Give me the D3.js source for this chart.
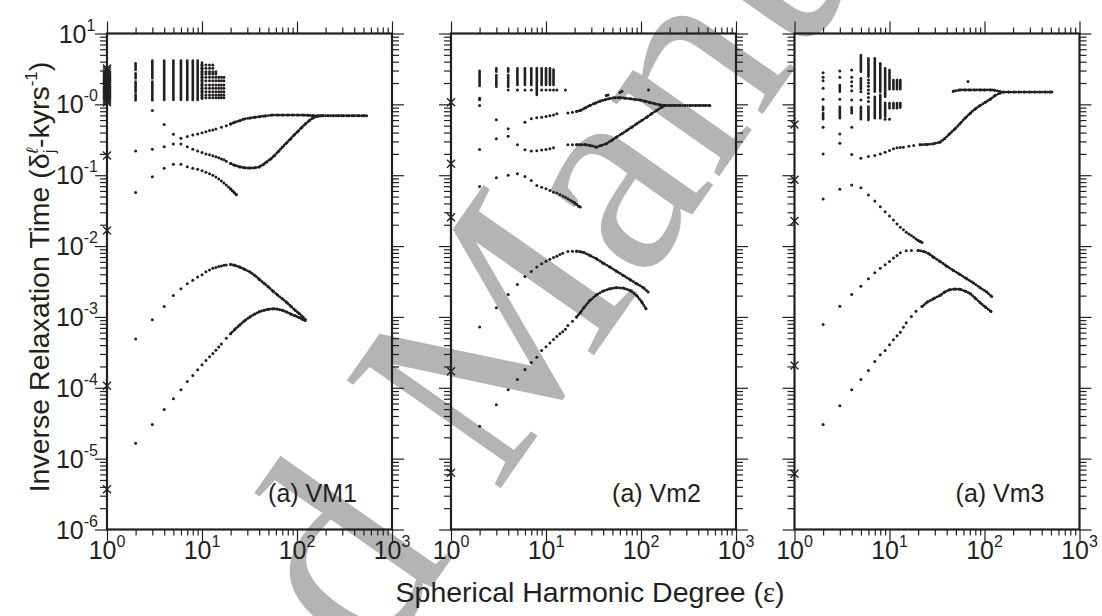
<!DOCTYPE html>
<html>
<head>
<meta charset="utf-8">
<script src="https://cdn.jsdelivr.net/npm/d3@7"></script>
<style>
  html, body { margin: 0; padding: 0; background: #fff; }
  svg { display: block; }
</style>
</head>
<body>
<svg id="chart" width="1102" height="616"></svg>
<script>
// ---------- axis tick labels ----------
const xTickValues = [1, 10, 100, 1000];
const xTickExponents = ["0", "1", "2", "3"];
const yTickValues = [10, 1, 1e-1, 1e-2, 1e-3, 1e-4, 1e-5, 1e-6];
const yTickExponents = ["1", "-0", "-1", "-2", "-3", "-4", "-5", "-6"];
const panelLabels = ["(a) VM1", "(a) Vm2", "(a) Vm3"];

// ---------- VM1 ----------
const vm1Crosses = [3.2, 3.0, 2.8, 2.6, 2.45, 2.3, 2.15, 2.0, 1.9, 1.8, 1.7, 1.6, 1.52, 1.44, 1.36, 1.28, 1.2, 1.13, 1.07, 0.19, 0.0166, 1.07e-4, 3.7e-6];
const vm1Bars = [[2,3.06,3.8],[2,2.33,2.74],[2,1.75,2.09],[2,1.49,1.66],[2,1.14,1.38],[3,2.33,4.16],[3,1.75,2.09],[3,1.14,1.66],[4,1.15,4.15],[5,1.15,4.15],[6,1.15,4.15],[7,1.15,4.15],[8,1.15,4.15],[9,1.15,4.15],[10,1.2,3.9]];
const vm1Dots = [];
// level value, last degree reached (all levels start at degree 10)
const vm1Steps = [[3.59,13],[3.23,13],[2.89,14],[2.68,14],[2.41,17],[2.16,17],[1.88,17],[1.69,17],[1.51,17],[1.36,17],[1.24,17]];
const vm1ModeA = [[3,0.82],[4,0.52],[5,0.38],[6,0.332],[7,0.351],[8,0.37],[9,0.382],[10,0.399],[11,0.412],[12,0.426],[13,0.436],[14,0.449],[16,0.474],[18,0.5],[20,0.528],[22,0.557],[25,0.589],[28,0.622],[32,0.642],[36,0.656],[40,0.67],[46,0.685],[55,0.705],[63,0.705],[71,0.705],[80,0.705],[90,0.705],[102,0.705],[115,0.705],[130,0.7],[147,0.69],[166,0.69],[188,0.69],[212,0.69],[240,0.69],[271,0.69],[306,0.69],[346,0.69],[391,0.69],[442,0.69],[500,0.69],[540,0.69]];
const vm1ModeB = [[2,0.22],[3,0.232],[4,0.253],[5,0.276],[6,0.276],[7,0.253],[8,0.232],[9,0.22],[10,0.21],[11,0.2],[12,0.194],[13,0.188],[14,0.182],[15,0.176],[16,0.17],[17,0.165],[18,0.158],[20,0.146],[22,0.138],[25,0.131],[28,0.127],[32,0.126],[36,0.127],[40,0.131],[44,0.141],[48,0.154],[53,0.17],[58,0.19],[64,0.217],[70,0.248],[77,0.283],[85,0.323],[93,0.368],[102,0.414],[112,0.471],[123,0.531],[135,0.592],[148,0.646],[163,0.675],[180,0.69]];
const vm1ModeC = [[2,0.0568],[3,0.0955],[4,0.1255],[5,0.143],[6,0.143],[7,0.132],[8,0.1255],[9,0.121],[10,0.116],[11,0.11],[12,0.105],[13,0.0995],[14,0.0944],[15,0.0884],[16,0.0828],[17,0.0776],[18,0.0727],[19,0.0682],[20,0.0639],[21,0.0598],[22,0.0561],[23,0.0532]];
const vm1ModeD = [[2,4.9e-4],[3,9.1e-4],[4,1.4e-3],[5,2.0e-3],[6,2.5e-3],[7,2.95e-3],[8,3.3e-3],[9,3.65e-3],[10,3.95e-3],[11,4.35e-3],[12,4.6e-3],[13,4.85e-3],[14,5.0e-3],[15,5.15e-3],[16,5.25e-3],[17,5.35e-3],[18,5.42e-3],[20,5.5e-3],[22,5.35e-3],[25,5.05e-3],[28,4.7e-3],[32,4.3e-3],[36,3.85e-3],[40,3.4e-3],[45,2.98e-3],[50,2.65e-3],[56,2.31e-3],[62,2.05e-3],[70,1.8e-3],[78,1.6e-3],[86,1.42e-3],[95,1.25e-3],[105,1.12e-3],[115,1.0e-3],[122,9.3e-4]];
const vm1ModeE = [[2,1.65e-5],[3,3.03e-5],[4,4.94e-5],[5,7.0e-5],[6,9.4e-5],[7,1.23e-4],[8,1.49e-4],[9,1.8e-4],[10,2.11e-4],[11,2.43e-4],[12,2.75e-4],[13,3.05e-4],[14,3.4e-4],[15,3.75e-4],[16,4.15e-4],[18,5.0e-4],[20,5.8e-4],[22,6.6e-4],[25,7.7e-4],[28,8.8e-4],[32,1.0e-3],[36,1.1e-3],[40,1.18e-3],[45,1.24e-3],[50,1.28e-3],[56,1.3e-3],[62,1.29e-3],[70,1.24e-3],[78,1.17e-3],[86,1.1e-3],[95,1.04e-3],[105,9.8e-4],[115,9.2e-4],[122,8.9e-4]];

// ---------- Vm2 ----------
const vm2Crosses = [1.07, 0.145, 0.0256, 1.71e-4, 6.3e-6];
const vm2Bars = [[2,1.82,2.98],[3,2.89,3.23],[3,2.33,2.6],[3,1.77,2.21],[4,2.89,3.23],[4,2.33,2.6],[4,1.77,2.21],[5,1.88,3.23],[6,1.88,3.23],[7,1.88,3.23],[8,1.36,3.23],[9,1.88,3.23],[10,1.88,3.23],[11,1.88,3.23],[12,1.88,3.1]];
const vm2Dots = [[2,1.22],[2,1.16],[2,0.96],[4,1.6],[5,1.6],[6,1.6],[7,1.6],[9,1.6],[10,1.6],[11,1.6],[12,1.6],[13,1.6],[16,1.6],[43,1.33],[45,1.36],[60,1.47],[63,1.53],[120,1.6]];
const vm2ModeA = [[3,0.605],[4,0.452],[6,0.561],[7,0.625],[8,0.646],[9,0.66],[10,0.674],[11,0.69],[12,0.71],[13,0.735],[17,0.758],[19,0.776],[21,0.793],[23,0.819],[26,0.893],[29,0.964],[33,1.04],[37,1.11],[42,1.16],[47,1.21],[53,1.24],[60,1.24],[68,1.22],[77,1.2],[87,1.17],[98,1.15],[110,1.11],[124,1.06],[140,1.02],[158,0.98],[175,0.964],[200,0.964],[225,0.964],[255,0.964],[290,0.964],[330,0.964],[375,0.964],[420,0.964],[475,0.964],[530,0.964]];
const vm2ModeB = [[2,0.231],[3,0.327],[4,0.356],[5,0.269],[6,0.228],[7,0.219],[8,0.222],[9,0.226],[10,0.231],[11,0.236],[12,0.244],[17,0.269],[19,0.269],[21,0.269],[23,0.269],[26,0.269],[29,0.263],[34,0.249],[38,0.263],[43,0.277],[49,0.309],[55,0.344],[63,0.384],[71,0.428],[80,0.477],[90,0.531],[102,0.592],[115,0.66],[129,0.735],[146,0.819],[165,0.912],[178,0.964]];
const vm2ModeC = [[2,0.0693],[3,0.092],[4,0.1],[5,0.105],[6,0.096],[7,0.0843],[8,0.0716],[9,0.0679],[10,0.0643],[11,0.061],[12,0.0577],[13,0.056],[14,0.0535],[15,0.051],[16,0.049],[17,0.0465],[18,0.0445],[19,0.0426],[20,0.0405],[21,0.0386],[22,0.0365],[23,0.0355]];
const vm2ModeD = [[2,7.2e-4],[3,1.35e-3],[4,2.07e-3],[5,2.87e-3],[6,3.72e-3],[7,4.38e-3],[8,5.05e-3],[9,5.62e-3],[10,6.1e-3],[11,6.5e-3],[12,6.9e-3],[13,7.2e-3],[14,7.6e-3],[15,7.9e-3],[17,8.35e-3],[19,8.45e-3],[21,8.47e-3],[23,8.3e-3],[25,8.1e-3],[29,7.36e-3],[34,6.6e-3],[40,5.74e-3],[47,5.05e-3],[55,4.43e-3],[65,3.85e-3],[77,3.34e-3],[90,2.94e-3],[106,2.58e-3],[119,2.24e-3]];
const vm2ModeE = [[2,2.87e-5],[3,5.75e-5],[4,9.35e-5],[5,1.31e-4],[6,1.81e-4],[7,2.27e-4],[8,2.7e-4],[9,3.36e-4],[10,3.8e-4],[11,4.3e-4],[12,4.8e-4],[13,5.3e-4],[14,5.78e-4],[15,6.2e-4],[16,6.7e-4],[17,7.57e-4],[19,8.7e-4],[21,1.0e-3],[23,1.15e-3],[25,1.35e-3],[29,1.7e-3],[34,2.05e-3],[40,2.32e-3],[47,2.49e-3],[55,2.58e-3],[65,2.55e-3],[77,2.36e-3],[90,2.0e-3],[102,1.62e-3],[113,1.3e-3]];

// ---------- Vm3 ----------
const vm3Crosses = [0.52, 0.0861, 0.0225, 2.07e-4, 6.1e-6];
const vm3Bars = [[2,0.83,0.927],[2,0.615,0.748],[3,1.51,1.88],[3,0.636,0.927],[4,0.748,0.908],[5,2.89,4.98],[5,1.63,2.33],[5,0.615,0.927],[6,2.46,4.47],[6,0.6,0.93],[7,1.51,4.47],[7,0.636,1.28],[8,1.51,3.8],[8,0.636,1.36],[9,1.28,3.23],[9,0.67,1.055],[10,1.63,3.06],[10,0.88,1.04],[11,1.63,2.21],[11,0.88,1.04],[12,1.63,2.21],[12,0.88,1.04],[13,1.63,2.21],[13,0.9,1.04]];
const vm3Dots = [[2,2.8],[2,2.41],[2,2.16],[2,1.69],[2,1.18],[2,0.474],[3,2.96],[3,2.41],[3,1.18],[3,0.382],[4,3.06],[4,2.41],[4,2.09],[4,1.82],[4,1.56],[4,1.15],[4,0.474],[5,1.51],[5,1.15],[6,2.21],[6,2.0],[6,1.8],[6,1.6],[6,1.42],[6,1.25],[6,1.1],[9,0.615],[10,0.615],[67,2.1]];
const vm3Steps = [];
const vm3ModeA = [[2,0.2],[3,0.283],[4,0.196],[5,0.174],[6,0.184],[7,0.19],[8,0.2],[9,0.211],[10,0.223],[11,0.236],[12,0.244],[13,0.247],[14,0.249],[16,0.257],[18,0.263],[21,0.269],[25,0.272],[29,0.277],[34,0.293],[38,0.327],[43,0.384],[49,0.452],[55,0.531],[63,0.646],[71,0.751],[80,0.865],[90,0.964],[102,1.07],[115,1.18],[129,1.33],[146,1.45],[158,1.49],[180,1.49],[205,1.49],[232,1.49],[263,1.49],[298,1.49],[338,1.49],[383,1.49],[435,1.49],[490,1.49],[512,1.49]];
const vm3ModeU = [[47,1.53],[55,1.6],[62,1.6],[70,1.6],[79,1.6],[90,1.6],[100,1.6],[115,1.6],[128,1.58],[146,1.52]];
const vm3ModeC = [[2,0.0462],[3,0.0632],[4,0.0728],[5,0.0668],[6,0.0526],[7,0.0433],[8,0.036],[9,0.0306],[10,0.0266],[11,0.0233],[12,0.0205],[13,0.0185],[14,0.017],[15,0.0157],[16,0.0148],[17,0.0141],[18,0.0133],[19,0.0126],[20,0.012],[21,0.0116],[22,0.0112]];
const vm3ModeD = [[2,7.8e-4],[3,1.41e-3],[4,2.07e-3],[5,2.72e-3],[6,3.45e-3],[7,4.2e-3],[8,4.88e-3],[9,5.44e-3],[10,6.07e-3],[11,6.76e-3],[12,7.36e-3],[13,8.03e-3],[15,8.57e-3],[17,8.67e-3],[20,8.67e-3],[23,8.4e-3],[26,7.78e-3],[29,6.98e-3],[34,6.07e-3],[40,5.21e-3],[47,4.53e-3],[55,3.98e-3],[65,3.45e-3],[77,3.0e-3],[90,2.58e-3],[106,2.24e-3],[119,1.94e-3]];
const vm3ModeE = [[2,3.03e-5],[3,5.6e-5],[4,9.4e-5],[5,1.31e-4],[6,1.75e-4],[7,2.35e-4],[8,2.92e-4],[9,3.36e-4],[10,4.04e-4],[11,4.75e-4],[12,5.41e-4],[13,6.1e-4],[14,7.17e-4],[15,8.26e-4],[17,1.01e-3],[19,1.2e-3],[22,1.4e-3],[25,1.62e-3],[29,1.8e-3],[34,2.01e-3],[38,2.24e-3],[43,2.42e-3],[49,2.47e-3],[55,2.45e-3],[63,2.31e-3],[71,2.12e-3],[80,1.84e-3],[90,1.58e-3],[102,1.38e-3],[117,1.19e-3]];

const panels = [
  { label: panelLabels[0], crosses: vm1Crosses, bars: vm1Bars, dots: vm1Dots, steps: vm1Steps,
    modes: [vm1ModeA, vm1ModeB, vm1ModeC, vm1ModeD, vm1ModeE] },
  { label: panelLabels[1], crosses: vm2Crosses, bars: vm2Bars, dots: vm2Dots, steps: [],
    modes: [vm2ModeA, vm2ModeB, vm2ModeC, vm2ModeD, vm2ModeE] },
  { label: panelLabels[2], crosses: vm3Crosses, bars: vm3Bars, dots: vm3Dots, steps: vm3Steps,
    modes: [vm3ModeA, vm3ModeU, vm3ModeC, vm3ModeD, vm3ModeE] }
];

// ---------- layout ----------
const ink = "#231f20";
const sans = "'Liberation Sans', Arial, Helvetica, sans-serif";
const serif = "'Liberation Serif', 'Times New Roman', serif";
const panelLefts = [107, 451, 794.5];
const panelWidth = 285;
const plotTop = 33.5, plotBottom = 529.5;

const svg = d3.select("#chart");

// journal watermark, behind everything; the two words meet at the "M"
const mark = svg.append("g").attr("transform", "translate(496,495) rotate(-55)")
  .style("font-family", serif).style("font-size", "287px").style("fill", "#b4b4b4");
mark.append("text").attr("x", -0.25 * 287).attr("y", 0).attr("text-anchor", "end").text("Accepted");
mark.append("text").attr("x", 0).attr("y", 0).text("Manuscript");

const y = d3.scaleLog().domain([1e-6, 10]).range([plotBottom, plotTop]);
const isDecade = v => Math.abs(Math.log10(v) - Math.round(Math.log10(v))) < 1e-9;

panels.forEach((p, i) => {
  const left = panelLefts[i], right = left + panelWidth;
  const x = d3.scaleLog().domain([1, 1000]).range([left, right]);
  const g = svg.append("g");

  const xMinor = x.ticks().filter(v => !isDecade(v));
  const yMinor = y.ticks().filter(v => !isDecade(v));

  const tickGroup = (axis, tx, ty) => {
    const a = g.append("g").attr("transform", `translate(${tx},${ty})`).call(axis);
    a.select(".domain").remove();
    a.selectAll("line").attr("stroke", ink).attr("stroke-width", 1.2);
    a.selectAll("text").remove();
  };
  // ticks point outward on every side
  tickGroup(d3.axisBottom(x).tickValues(xMinor).tickSize(6).tickFormat(""), 0, plotBottom);
  tickGroup(d3.axisBottom(x).tickValues(xTickValues).tickSize(12).tickFormat(""), 0, plotBottom);
  tickGroup(d3.axisTop(x).tickValues(xMinor).tickSize(6).tickFormat(""), 0, plotTop);
  tickGroup(d3.axisTop(x).tickValues(xTickValues).tickSize(12).tickFormat(""), 0, plotTop);
  tickGroup(d3.axisLeft(y).tickValues(yMinor).tickSize(7).tickFormat(""), left, 0);
  tickGroup(d3.axisLeft(y).tickValues(yTickValues).tickSize(12).tickFormat(""), left, 0);
  tickGroup(d3.axisRight(y).tickValues(yMinor).tickSize(7).tickFormat(""), right, 0);
  tickGroup(d3.axisRight(y).tickValues(yTickValues).tickSize(12).tickFormat(""), right, 0);

  // frame
  g.append("rect")
    .attr("x", left).attr("y", plotTop)
    .attr("width", panelWidth).attr("height", plotBottom - plotTop)
    .attr("fill", "none").attr("stroke", ink).attr("stroke-width", 2.2);

  // x tick labels
  xTickValues.forEach((v, k) => {
    const t = g.append("text")
      .attr("x", x(v)).attr("y", 559)
      .attr("text-anchor", "middle")
      .style("font-family", sans).style("font-size", "25px").style("fill", ink);
    t.append("tspan").text("10");
    t.append("tspan").attr("dy", -12).style("font-size", "16px").text(xTickExponents[k]);
  });

  // y tick labels on the first panel only
  if (i === 0) {
    yTickValues.forEach((v, k) => {
      const t = g.append("text")
        .attr("x", 77).attr("y", y(v) + 9)
        .attr("text-anchor", "middle")
        .style("font-family", sans).style("font-size", "25px").style("fill", ink);
      t.append("tspan").text("10");
      t.append("tspan").attr("dy", -12).style("font-size", "16px").text(yTickExponents[k]);
    });
  }

  // panel label
  g.append("text")
    .attr("x", right - 35).attr("y", 502)
    .attr("text-anchor", "end")
    .style("font-family", sans).style("font-size", "25px").style("fill", ink)
    .text(p.label);

  // degree-1 modes as crosses
  g.selectAll(null).data(p.crosses).join("path")
    .attr("transform", v => `translate(${x(1)},${y(v)})`)
    .attr("d", "M-4,-4L4,4M-4,4L4,-4")
    .attr("stroke", ink).attr("stroke-width", 1.4).attr("fill", "none");

  // dense mode stacks
  g.selectAll(null).data(p.bars).join("line")
    .attr("x1", d => x(d[0])).attr("x2", d => x(d[0]))
    .attr("y1", d => y(d[1])).attr("y2", d => y(d[2]))
    .attr("stroke", ink).attr("stroke-width", 2.6).attr("stroke-linecap", "round");

  // stair-step levels (degree 10 up to the last degree of each level)
  const stepPts = [];
  p.steps.forEach(([v, last]) => { for (let d = 10; d <= last; d++) stepPts.push([d, v]); });

  const dotPts = p.dots.concat(stepPts);
  p.modes.forEach(m => { m.forEach(d => dotPts.push(d)); });

  // where consecutive modes at high degree overlap, draw them as a beaded run
  const line = d3.line().x(d => x(d[0])).y(d => y(d[1]));
  p.modes.forEach(m => {
    let run = [];
    const flush = () => {
      if (run.length > 1) {
        g.append("path").attr("d", line(run))
          .attr("fill", "none").attr("stroke", ink).attr("stroke-width", 2.9)
          .attr("stroke-linecap", "round").attr("stroke-dasharray", "0 2.6");
      }
      run = [];
    };
    for (let k = 0; k < m.length; k++) {
      const d = m[k];
      if (run.length) {
        const prev = run[run.length - 1];
        const gap = Math.hypot(x(d[0]) - x(prev[0]), y(d[1]) - y(prev[1]));
        if (!(prev[0] >= 20 && d[0] >= 20 && gap < 14)) flush();
      }
      run.push(d);
    }
    flush();
  });

  g.selectAll(null).data(dotPts).join("circle")
    .attr("cx", d => x(d[0])).attr("cy", d => y(d[1]))
    .attr("r", 1.5).attr("fill", ink);
});

// axis titles
const xt = svg.append("text")
  .attr("x", 590).attr("y", 602).attr("text-anchor", "middle")
  .style("font-family", sans).style("font-size", "28.5px").style("fill", ink);
xt.append("tspan").text("Spherical Harmonic Degree (");
xt.append("tspan").style("font-family", serif).text("\u03b5");
xt.append("tspan").text(")");

const yt = svg.append("text")
  .attr("transform", "translate(49,277) rotate(-90)")
  .attr("text-anchor", "middle")
  .style("font-family", sans).style("font-size", "28.5px").style("fill", ink);
yt.append("tspan").text("Inverse Relaxation Time (\u03b4");
yt.append("tspan").attr("dy", 6).style("font-size", "17px").text("j");
yt.append("tspan").attr("dx", -4).attr("dy", -17).style("font-size", "17px").style("font-style", "italic").text("\u2113");
yt.append("tspan").attr("dy", 11).text("-kyrs");
yt.append("tspan").attr("dy", -12).style("font-size", "17px").text("-1");
yt.append("tspan").attr("dy", 12).text(")");
</script>
</body>
</html>
